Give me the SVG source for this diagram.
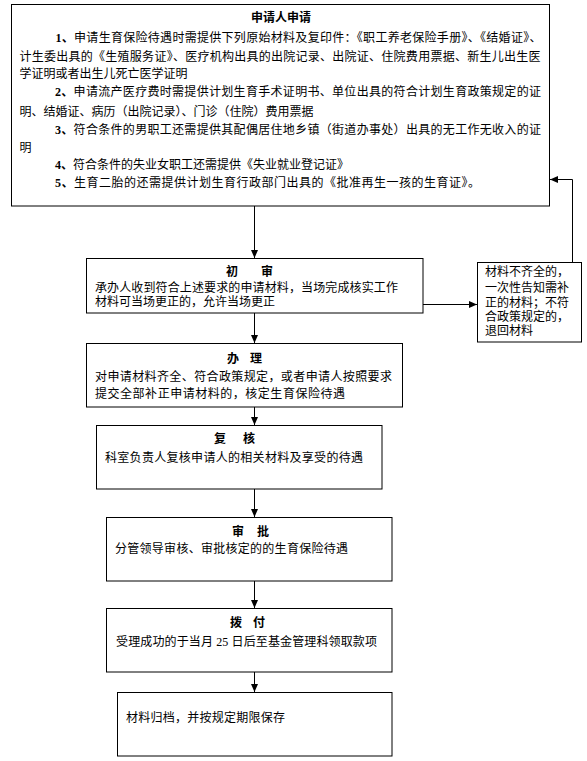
<svg xmlns="http://www.w3.org/2000/svg" width="587" height="761" viewBox="0 0 587 761">
<style>
  .box { fill: #ffffff; stroke: #000000; stroke-width: 1; }
  .t { font-family: "Liberation Serif", "Noto Sans CJK SC", serif; font-size: 12px; fill: #000000; }
  .b { font-weight: bold; }
  .conn { fill: none; stroke: #000000; stroke-width: 1; }
</style>
<defs>
  <marker id="arr" markerUnits="userSpaceOnUse" markerWidth="8" markerHeight="7" refX="8" refY="3.5" orient="auto">
    <path d="M0,0 L8,3.5 L0,7 z" fill="#000000"/>
  </marker>
</defs>
<rect x="0" y="0" width="587" height="761" fill="#ffffff"/>

<g id="apply">
  <rect class="box" x="11.5" y="4.5" width="538" height="201.5"/>
  <text class="t b" x="251" y="22" textLength="60" lengthAdjust="spacing">申请人申请</text>
  <text class="t" x="55.5" y="41.5" textLength="486" lengthAdjust="spacing"><tspan class="b">1、</tspan>申请生育保险待遇时需提供下列原始材料及复印件：《职工养老保险手册》、《结婚证》、</text>
  <text class="t" x="19.5" y="60.5" textLength="521" lengthAdjust="spacing">计生委出具的《生殖服务证》、医疗机构出具的出院记录、出院证、住院费用票据、新生儿出生医</text>
  <text class="t" x="19.5" y="77.5">学证明或者出生儿死亡医学证明</text>
  <text class="t" x="55" y="95.5" textLength="486" lengthAdjust="spacing"><tspan class="b">2、</tspan>申请流产医疗费时需提供计划生育手术证明书、单位出具的符合计划生育政策规定的证</text>
  <text class="t" x="19.5" y="115.5">明、结婚证、病历（出院记录）、门诊（住院）费用票据</text>
  <text class="t" x="55" y="133.5" textLength="486" lengthAdjust="spacing"><tspan class="b">3、</tspan>符合条件的男职工还需提供其配偶居住地乡镇（街道办事处）出具的无工作无收入的证</text>
  <text class="t" x="19.5" y="151.5">明</text>
  <text class="t" x="55" y="168.5"><tspan class="b">4、</tspan>符合条件的失业女职工还需提供《失业就业登记证》</text>
  <text class="t" x="55" y="186.5" textLength="425" lengthAdjust="spacing"><tspan class="b">5、</tspan>生育二胎的还需提供计划生育行政部门出具的《批准再生一孩的生育证》。</text>
</g>

<g id="first-review">
  <rect class="box" x="86.5" y="258.5" width="336.5" height="54.5"/>
  <text class="t b" x="226 238 250 261" y="275.5">初　　审</text>
  <text class="t" x="95" y="291.5" textLength="303" lengthAdjust="spacing">承办人收到符合上述要求的申请材料，当场完成核实工作</text>
  <text class="t" x="95" y="305.5">材料可当场更正的，允许当场更正</text>
</g>

<g id="return">
  <rect class="box" x="477.5" y="262.5" width="104" height="79.5"/>
  <text class="t" x="485" y="275.5">材料不齐全的，</text>
  <text class="t" x="485" y="291.5">一次性告知需补</text>
  <text class="t" x="485" y="306.5">正的材料；不符</text>
  <text class="t" x="485" y="320.5">合政策规定的，</text>
  <text class="t" x="485" y="334.5">退回材料</text>
</g>

<g id="handle">
  <rect class="box" x="86.5" y="343.5" width="316" height="63.5"/>
  <text class="t b" x="227 239 250" y="362.5">办　理</text>
  <text class="t" x="95" y="380.5" textLength="297" lengthAdjust="spacing">对申请材料齐全、符合政策规定，或者申请人按照要求</text>
  <text class="t" x="95" y="397.5" textLength="250" lengthAdjust="spacing">提交全部补正申请材料的，核定生育保险待遇</text>
</g>

<g id="recheck">
  <rect class="box" x="96.5" y="425.5" width="285.5" height="63.5"/>
  <text class="t b" x="214 226 243" y="442.5">复　核</text>
  <text class="t" x="105" y="461.5" textLength="258" lengthAdjust="spacing">科室负责人复核申请人的相关材料及享受的待遇</text>
</g>

<g id="approve">
  <rect class="box" x="106.5" y="517.5" width="285.5" height="63.5"/>
  <text class="t b" x="232 244 257" y="535.5">审　批</text>
  <text class="t" x="115" y="553" textLength="233" lengthAdjust="spacing">分管领导审核、审批核定的的生育保险待遇</text>
</g>

<g id="pay">
  <rect class="box" x="106.5" y="608.5" width="285.5" height="63.5"/>
  <text class="t b" x="230 242 253" y="627">拨　付</text>
  <text class="t" x="116" y="646" textLength="261" lengthAdjust="spacing">受理成功的于当月 25 日后至基金管理科领取款项</text>
</g>

<g id="archive">
  <rect class="box" x="117.5" y="692.5" width="274.5" height="63.5"/>
  <text class="t" x="126" y="721.5" textLength="159" lengthAdjust="spacing">材料归档，并按规定期限保存</text>
</g>

<g id="connectors">
  <path class="conn" d="M254.5,206 V258" marker-end="url(#arr)"/>
  <path class="conn" d="M254.5,313 V343" marker-end="url(#arr)"/>
  <path class="conn" d="M254.5,407 V425" marker-end="url(#arr)"/>
  <path class="conn" d="M254.5,489 V517" marker-end="url(#arr)"/>
  <path class="conn" d="M254.5,581 V608" marker-end="url(#arr)"/>
  <path class="conn" d="M254.5,672 V692" marker-end="url(#arr)"/>
  <path class="conn" d="M423,304.5 H477" marker-end="url(#arr)"/>
  <path class="conn" d="M572.5,262 V179.5 H550" marker-end="url(#arr)"/>
</g>
</svg>
